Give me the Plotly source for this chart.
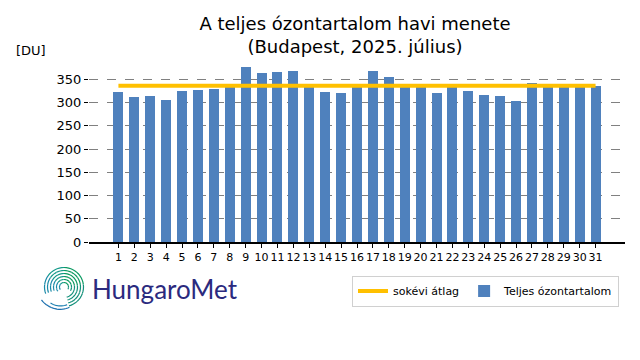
import math
import plotly.graph_objects as go

days = list(range(1, 32))
ozone = [322, 311, 314, 305, 325, 327, 329, 333, 377, 364, 366, 368, 334, 322, 320, 336,
         368, 355, 334, 333, 320, 336, 325, 316, 314, 303, 342, 337, 335, 334, 335]
longterm_avg = [336] * 31
y_ticks = [0, 50, 100, 150, 200, 250, 300, 350]

W, H = 640, 360
L, R, T, B = 89, 15, 63, 118
pw, ph = W - L - R, H - T - B


def px(x):
    return (x - L) / pw


def py(y):
    return (H - B - y) / ph


fig = go.Figure()
fig.add_trace(go.Bar(x=days, y=ozone, width=0.63, marker=dict(color="#4f81bd", line=dict(width=0)),
                     name="Teljes ózontartalom", legendrank=2))
fig.add_trace(go.Scatter(x=days, y=longterm_avg, mode="lines", line=dict(color="#ffc000", width=4),
                         name="sokévi átlag", legendrank=1))

# logo spiral
shapes = []
cx, cy = 64, 287


def arc(r0, r1, a0, a1, color, n=10):
    pts = []
    for k in range(n + 1):
        a = math.radians(a0 + (a1 - a0) * k / n)
        rr = r0 + (r1 - r0) * k / n
        pts.append((px(cx + rr * math.cos(a)), py(cy - rr * math.sin(a))))
    return dict(type="path", path="M " + " L ".join(f"{x:.5f},{y:.5f}" for x, y in pts),
                xref="paper", yref="paper", line=dict(color=color, width=1.2))


def angcol(a):
    if a > 150:
        return "#1a8aa8"
    if a > 95:
        return "#159a8a"
    if a > 10:
        return "#0c9a62"
    return "#13907a"


for i, r in enumerate([4.5, 7.5, 10.5, 13.5, 16.5, 19.5]):
    a0 = 215 if i < 2 else 200
    a1 = -30 if i < 2 else -75
    segs = 10
    for s in range(segs):
        t0 = a0 + (a1 - a0) * s / segs
        t1 = a0 + (a1 - a0) * (s + 1) / segs
        shapes.append(arc(r, r, t0, t1, angcol((t0 + t1) / 2), 4))
# tail sweeping to lower-left
shapes.append(arc(21, 26, -75, -150, "#1b6fae", 16))
shapes.append(arc(18, 21, -80, -130, "#1b7fb0", 12))

fig.update_layout(
    width=W, height=H,
    margin=dict(l=L, r=R, t=T, b=B, autoexpand=False),
    paper_bgcolor="white", plot_bgcolor="white",
    font=dict(family="DejaVu Sans", color="black"),
    title=dict(text="A teljes ózontartalom havi menete<br>(Budapest, 2025. július)",
               x=355 / W, xanchor="center", xref="container", yref="container", y=1 - 30 / H,
               yanchor="top", font=dict(size=18)),
    xaxis=dict(range=[-0.85, 32.85], tickmode="array", tickvals=days, ticktext=[str(d) for d in days],
               ticks="outside", ticklen=4, tickcolor="black", showline=True, linecolor="black",
               linewidth=1.5, showgrid=False, zeroline=False, tickfont=dict(size=11),
               tickangle=0, automargin=False),
    yaxis=dict(range=[0, 385], tickmode="array", tickvals=y_ticks, ticks="outside", ticklen=4,
               tickcolor="black", showline=False, showgrid=True, gridcolor="#808080",
               griddash="dash", gridwidth=1, zeroline=False, tickfont=dict(size=13),
               automargin=False),
    bargap=0,
    showlegend=True,
    legend=dict(orientation="h", x=px(619), xanchor="right", y=py(291), yanchor="middle",
                bordercolor="#d0d0d0", borderwidth=1, font=dict(size=11), bgcolor="white",
                traceorder="normal"),
    shapes=shapes,
    annotations=[
        dict(text="[DU]", x=px(14), y=py(50), xref="paper", yref="paper", xanchor="left",
             yanchor="middle", showarrow=False, font=dict(size=13)),
        dict(text="HungaroMet", x=px(90), y=py(289), xref="paper", yref="paper", xanchor="left",
             yanchor="middle", showarrow=False, font=dict(family="Lato", size=26, color="#2b2a7e")),
    ],
)

fig.write_html("out.html", config={"displayModeBar": False},
               post_script="document.body.style.margin='0';document.body.style.overflow='hidden';")
